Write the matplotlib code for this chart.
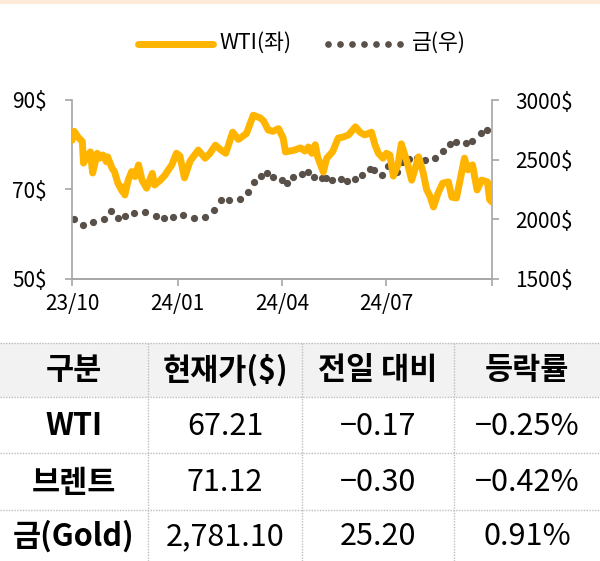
import numpy as np
import matplotlib.pyplot as plt
from matplotlib.patches import Rectangle

plt.rcParams['font.family'] = ['Noto Sans CJK KR', 'DejaVu Sans']

# WTI (left axis), day offset from 23/10 start
wti_day = [0, 2, 5, 9, 10, 13, 16, 18, 22, 24, 27, 30, 31, 35, 37, 40, 44, 45, 46, 49,
           52, 55, 58, 61, 65, 70, 72, 77, 81, 84, 87, 91, 94, 98, 103, 110, 116, 120, 125, 129,
           134, 140, 145, 152, 158, 164, 167, 171, 175, 180, 184, 186, 190, 194, 199, 203, 206, 209, 212, 214,
           219, 222, 227, 232, 236, 241, 247, 251, 255, 261, 264, 267, 271, 274, 277, 280, 284, 287, 292, 296,
           302, 306, 309, 312, 315, 319, 323, 328, 331, 335, 340, 342, 345, 349, 353, 357, 362, 364, 366]
wti_val = [81.0, 83.0, 81.8, 80.7, 75.9, 77.3, 78.4, 73.7, 78.1, 77.0, 77.7, 76.2, 77.3, 74.7, 74.0, 71.4, 69.5, 70.6, 68.8, 72.1,
           74.0, 72.9, 75.5, 72.1, 70.3, 73.6, 71.0, 72.1, 73.2, 74.4, 75.5, 78.1, 77.5, 72.6, 76.4, 78.8, 77.0, 78.0, 79.9, 79.0,
           78.1, 82.8, 81.2, 82.5, 86.6, 86.0, 85.3, 83.3, 83.0, 83.6, 81.5, 78.4, 78.6, 78.8, 79.3, 78.6, 79.5, 78.1, 80.0, 77.3,
           73.9, 77.0, 78.4, 81.5, 81.7, 82.2, 84.0, 82.8, 82.2, 82.8, 80.0, 78.1, 77.0, 78.1, 77.7, 73.0, 75.5, 80.2, 76.1, 72.1,
           77.3, 73.8, 70.0, 68.5, 66.1, 69.2, 71.4, 71.7, 68.3, 68.1, 74.4, 77.0, 74.4, 75.5, 69.9, 72.1, 71.7, 67.7, 67.2]

# Gold (right axis)
gold_day = [2, 10, 18, 28, 34, 40, 46, 54, 64, 73, 80, 88, 97, 106, 116, 124, 130, 137, 146, 153,
            159, 165, 170, 175, 183, 187, 193, 200, 206, 211, 218, 221, 227, 234, 240, 247, 253, 260, 263, 270,
            275, 283, 288, 294, 301, 308, 316, 323, 329, 335, 343, 349, 356, 362]
gold_val = [2000, 1953, 1975, 2003, 2072, 2009, 2030, 2050, 2064, 2028, 2011, 2022, 2039, 2014, 2022, 2078, 2162, 2165, 2168, 2232,
            2310, 2363, 2388, 2357, 2330, 2307, 2358, 2380, 2397, 2355, 2349, 2346, 2330, 2335, 2324, 2338, 2369, 2422, 2416, 2372,
            2450, 2400, 2478, 2508, 2514, 2497, 2517, 2575, 2629, 2646, 2637, 2656, 2721, 2749]

x_ticks = [0, 92, 183, 274, 366]
x_labels = ['23/10', '24/01', '24/04', '24/07', '']

# table
col_heads = ['구분', '현재가($)', '전일 대비', '등락률']
rows = [['WTI', '67.21', '−0.17', '−0.25%'],
        ['브렌트', '71.12', '−0.30', '−0.42%'],
        ['금(Gold)', '2,781.10', '25.20', '0.91%']]

wti_c = '#FFB400'
gold_c = '#595049'
spine_c = '#A6A6A6'

fig = plt.figure(figsize=(6, 5.61), dpi=100)

# overlay in pixel coords for legend + table
bg = fig.add_axes([0, 0, 1, 1])
bg.set_xlim(0, 600); bg.set_ylim(561, 0); bg.axis('off')
bg.add_patch(Rectangle((0, 0), 600, 4, color='#FCEBD9', lw=0))

# legend
bg.plot([138, 213], [44, 44], color=wti_c, lw=5, solid_capstyle='round')
bg.text(219, 43, 'WTI(좌)', fontsize=15.5, va='center', ha='left')
bg.plot(np.linspace(328, 400, 7), [44]*7, 'o', color=gold_c, ms=3.8)
bg.text(412, 43, '금(우)', fontsize=15.5, va='center', ha='left')

# table
row_edges = [343, 397, 453, 510, 561]
col_edges = [0, 148, 302, 454, 600]
bg.add_patch(Rectangle((0, 343), 600, 54, color='#F2F2F2', lw=0))
for y in row_edges[:-1]:
    bg.plot([0, 600], [y, y], color='#BDBDBD', lw=1, ls=(0, (1, 1)))
for x in col_edges[1:-1]:
    bg.plot([x, x], [343, 561], color='#BDBDBD', lw=1, ls=(0, (1, 1)))
for j, h in enumerate(col_heads):
    cx = (col_edges[j] + col_edges[j+1]) / 2
    bg.text(cx, 370, h, fontsize=22, fontweight='bold', ha='center', va='center')
for i, r in enumerate(rows):
    cy = (row_edges[i+1] + row_edges[i+2]) / 2 + 1
    for j, v in enumerate(r):
        cx = (col_edges[j] + col_edges[j+1]) / 2
        bg.text(cx, cy, v, fontsize=22, fontweight='bold' if j == 0 else 'normal',
                ha='center', va='center')

# chart
ax = fig.add_axes([72/600, 1 - 279/561, 420/600, 179/561])
ax.patch.set_alpha(0)
ax2 = ax.twinx()
ax2.plot(gold_day, gold_val, 'o', color=gold_c, ms=4.2, zorder=2)
ax.plot(wti_day, wti_val, color=wti_c, lw=5, solid_joinstyle='round', solid_capstyle='round', zorder=3)
ax.set_zorder(ax2.get_zorder() + 1)

ax.set_xlim(0, 366)
ax.set_ylim(50, 90)
ax2.set_ylim(1500, 3000)
ax.set_yticks([50, 70, 90], ['50$', '70$', '90$'])
ax2.set_yticks([1500, 2000, 2500, 3000], ['1500$', '2000$', '2500$', '3000$'])
ax.set_xticks(x_ticks, x_labels)

for a in (ax, ax2):
    for s in a.spines.values():
        s.set_color(spine_c); s.set_linewidth(1.2)
    a.spines['top'].set_visible(False)
ax.spines['right'].set_visible(False)
ax2.spines['left'].set_visible(False)
ax.tick_params(axis='y', colors=spine_c, labelcolor='black', labelsize=15, length=5, width=1.2, pad=13)
ax.tick_params(axis='x', colors=spine_c, labelcolor='black', labelsize=15, length=5, width=1.2, pad=5)
ax2.tick_params(axis='y', colors=spine_c, labelcolor='black', labelsize=15, length=5, width=1.2, pad=12)

fig.savefig('out.png', dpi=100)
